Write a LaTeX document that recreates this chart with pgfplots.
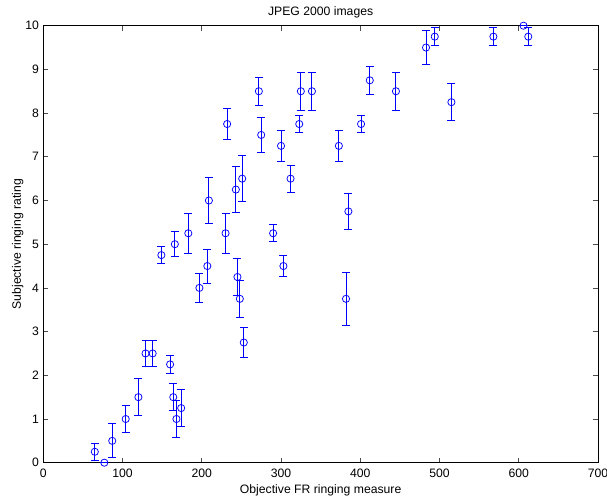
\documentclass[border=0pt]{standalone}
\usepackage{pgfplots}
\pgfplotsset{compat=1.18}
\usepackage{pgfplotstable}
\usepackage{fontspec}
\setmainfont{Liberation Sans}
\definecolor{mblue}{rgb}{0,0,1}
\pgfplotstableread{
x y e
65 0.25 0.2
77 0 0
87 0.5 0.39
104 1.0 0.32
120 1.5 0.43
129 2.5 0.29
138 2.5 0.29
160 2.25 0.2
164 1.5 0.31
168 1.0 0.42
174 1.25 0.43
149 4.75 0.2
166 5.0 0.29
183 5.25 0.46
197 4.0 0.33
207 4.5 0.39
209 6.0 0.52
230 5.25 0.46
232 7.75 0.35
243 6.25 0.53
245 4.25 0.42
248 3.75 0.43
251 6.5 0.52
253 2.75 0.35
272 8.5 0.32
275 7.5 0.41
290 5.25 0.19
300 7.25 0.35
303 4.5 0.25
312 6.5 0.31
323 7.75 0.2
325 8.5 0.43
339 8.5 0.43
373 7.25 0.35
382 3.75 0.6
385 5.75 0.42
401 7.75 0.2
412 8.75 0.32
445 8.5 0.43
483 9.5 0.39
494 9.75 0.2
515 8.25 0.42
568 9.75 0.2
606 10 0
612 9.75 0.2
}\datatable
\begin{document}
\fontsize{12.2pt}{14pt}\selectfont
\begin{tikzpicture}
\begin{axis}[
  name=ax,
  scale only axis,
  width=554.7pt, height=437pt,
  xmin=0, xmax=700, ymin=0, ymax=10,
  xtick={0,100,...,700}, ytick={0,1,...,10},
  xtick pos=both, ytick pos=both,
  tick align=inside,
  major tick length=5pt,
  axis line style={line width=0.8pt, black},
  tick style={line width=0.6pt, black!70},
  /pgf/number format/assume math mode=true,
  ticklabel style={font=\fontsize{12.2pt}{14pt}\selectfont},
  xticklabel style={yshift=-2.5pt},
  clip=false,
]
\addplot[mblue, only marks, mark=o, mark size=3.6pt,
  mark options={line width=0.75pt, mblue},
  error bars/.cd, y dir=both, y explicit,
  error bar style={line width=1pt, mblue},
  error mark options={rotate=90, mark size=4pt, line width=1pt, mblue}]
  table[x=x, y=y, y error=e] {\datatable};
\node[anchor=base] at (axis description cs:0.5,1) [yshift=10.3pt] {JPEG 2000 images};
\node[anchor=base] at (axis description cs:0.5,0) [yshift=-31.3pt] {Objective FR ringing measure};
\node[xshift=-22.3pt, rotate=90, anchor=base] at (axis description cs:0,0.5) {Subjective ringing rating};
\end{axis}
\pgfresetboundingbox
\path (ax.south west) ++(-43.3pt,-39.3pt) rectangle ++(607pt,502pt);
\end{tikzpicture}
\end{document}
